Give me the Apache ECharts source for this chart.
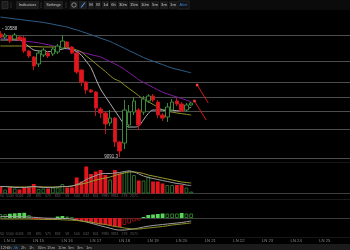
<!DOCTYPE html>
<html><head><meta charset="utf-8">
<script src="https://cdn.jsdelivr.net/npm/echarts@6/dist/echarts.min.js"></script>
<style>html,body{margin:0;padding:0;background:#000;overflow:hidden}#c{width:350px;height:250px}</style>
</head><body><div id="c"></div>
<script>
// ---- data ----
const opens  = [10552,10516,10528,10493,10516,10505,10350,10279,10196,10303,10326,10315,10338,10386,10457,10398,10326,10124,9982,9887,9863,9661,9614,9495,9554,9269,9257,9471,9625,9649,9625,9756,9816,9744,9590,9566,9649,9756,9721,9649,9709];
const closes = [10516,10540,10469,10540,10481,10350,10291,10172,10326,10362,10291,10374,10410,10469,10398,10326,10101,9982,9887,9863,9673,9614,9483,9554,9269,9162,9649,9625,9756,9471,9780,9816,9768,9590,9554,9685,9744,9721,9637,9709,9732];
const lows   = [10505,10493,10445,10481,10469,10326,10267,10124,10160,10279,10267,10291,10315,10374,10386,10315,10077,9934,9839,9851,9578,9554,9364,9459,9210,9091,9186,9435,9590,9412,9590,9732,9744,9554,9519,9507,9625,9697,9625,9625,9697];
const highs  = [10588,10564,10540,10564,10528,10528,10362,10291,10362,10386,10350,10398,10433,10540,10469,10410,10338,10136,9994,9899,9875,9685,9625,9649,9566,9281,9768,9709,9804,9673,9816,9839,9839,9768,9614,9732,9780,9792,9744,9732,9744];

const maBlue   = [10754,10747,10740,10731,10726,10718,10711,10704,10697,10690,10679,10669,10657,10646,10635,10616,10602,10582,10563,10543,10524,10503,10483,10464,10436,10410,10382,10355,10328,10300,10273,10250,10230,10209,10189,10167,10148,10133,10120,10105,10091];
const maPurple = [10505,10497,10490,10483,10476,10469,10462,10455,10448,10437,10425,10412,10400,10387,10374,10362,10349,10336,10322,10307,10294,10280,10253,10225,10197,10168,10133,10092,10052,10009,9978,9949,9918,9888,9861,9842,9821,9804,9785,9766,9748];
const maOlive  = [10410,10410,10410,10410,10410,10409,10406,10404,10401,10399,10398,10398,10398,10398,10392,10381,10362,10339,10291,10248,10200,10154,10108,10057,10015,9991,9946,9903,9863,9819,9776,9749,9716,9682,9650,9636,9624,9614,9606,9598,9590];
const maGray   = [10481,10481,10481,10481,10481,10445,10402,10362,10352,10345,10342,10348,10360,10373,10385,10364,10343,10300,10227,10151,10020,9898,9810,9726,9641,9557,9478,9447,9447,9459,9533,9608,9649,9649,9649,9649,9646,9641,9637,9661,9682];

const levels = [10540,10231,9982,9804,9637,9424,9079];
const arrowA = [[41.25,9946],[43.57,9732]];
const arrowB = [[40.68,9756],[43.14,9530]];
const highLabel = '- 10588';
const lowLabel = '9091.3';

const volumes  = [7,4,6,5,4,6,6,9.5,4.5,5,5,6,6,9.5,6,6,16,12,27,19.5,22,23.5,18.5,14,23.5,20,22,23,18.5,13,13,17,12,12,10,8.5,8.5,8.5,8.5,6,2];
const volMaOlive = [6.8,6.9,6.7,6.6,6.5,6.5,6.6,6.8,6.7,6.6,6.5,6.5,6.6,6.9,7.0,7.5,8.5,9.5,10.5,12,13.5,14.5,15.5,16.5,18,19.5,20.5,21.5,21.5,21,20,18.5,17.5,16.5,15.5,14.5,13.5,12.5,11.5,11,10.5];
const volMaGray  = [7,7,6.5,6,6,6,6.5,7,6.5,6,6,6,6.5,7,7,7.5,9,11,14,16,18,19.5,20,20,20.5,21,22,22.5,21.5,19.5,17.5,16,15,14,13,12,11,10,9.5,8.5,8];

const macdHist = [4,3.8,4.3,4.7,5,5.2,3,-1,-1.2,-1,-1.2,-0.8,1.5,2,1.5,0.5,-2,-3,-4,-4.5,-5.5,-6.5,-7,-7.5,-8.5,-9,-7,-5.5,-3.5,-2.5,1,3,3.5,4,4.5,4.5,4.5,4.5,5,4.5,4.5];
const macdDif  = [1.5,1.5,1.5,1.5,1.3,1.2,1,0.7,0.3,0,-0.2,-0.3,-0.5,-0.5,-0.5,-1.2,-2,-3,-4,-5.2,-6.5,-7.8,-9,-10.2,-11.5,-12,-12,-11.5,-11,-10,-9,-8.2,-7.5,-7,-6.5,-6,-5.5,-5,-4.5,-3.8,-3];
const macdDea  = [-1,-1,-1,-1,-1,-1,-1,-1.2,-1.3,-1.5,-1.5,-1.5,-1.5,-1.8,-2,-2.2,-2.5,-3,-3.5,-4.2,-5,-5.8,-6.5,-7.5,-8.5,-9.2,-10,-10.5,-11,-11,-10.5,-10,-9.5,-9,-8.5,-7.8,-7,-6.5,-6,-5.5,-5];

const dateLabels = ['LN 14','LN 15','LN 16','LN 17','LN 18','LN 19','LN 20','LN 21','LN 22','LN 23','LN 24','LN 25'];
const tinyLabels = ['8950','5100','6068','28','695','575','853','58','540','632','801','9985','9851','278','2571'];

const toolbarTabs = ['Indicators','Settings'];
const timeframes = ['M','W','1d','6h','30m','15m','10m','5m','3m','1m'];
const alertLabel = 'Alert';
const bottomFrames = ['12h','6h','4h','2h','1h','30m','15m','10m','5m','3m','1m'];
const activeBottom = '4h';

// ---- chart ----
const N = 74;
const cats = Array.from({length:N},(_,i)=>String(i));
const FONT = 'Liberation Sans, DejaVu Sans, sans-serif';
const chart = echarts.init(document.getElementById('c'), null, {renderer:'canvas', width:350, height:250});

const candleData = opens.map((o,i)=>[o, closes[i], lows[i], highs[i]]);
const volData = volumes.map((v,i)=>({value:v, itemStyle: closes[i]>=opens[i]
  ? {color:'rgba(0,0,0,0)', borderColor:'#2b6a2b', borderWidth:1}
  : {color:'#e3161e'}}));
const macdData = macdHist.map((v,i)=>{
  const prev = i>0 ? macdHist[i-1] : null;
  let st;
  if (v>=0) st = (prev!==null && v>prev) ? {color:'#57d657'} : {color:'rgba(0,0,0,0)', borderColor:'#2d7a2d', borderWidth:1};
  else st = (prev!==null && v<prev) ? {color:'#e3161e'} : {color:'rgba(0,0,0,0)', borderColor:'#8a1414', borderWidth:1};
  return {value:v, itemStyle:st};
});
const arrowSeries = (pts)=>({type:'line', xAxisIndex:1, yAxisIndex:0, silent:true, z:5,
  data: pts.map((p,i)=> i===0 ? {value:p, symbol:'rect', symbolSize:2.5, itemStyle:{color:'#ff3a3a'}} : {value:p, symbol:'none'}),
  showSymbol:true, lineStyle:{color:'#d01818', width:1}});
const maLine = (d,color,x,y)=>({type:'line', xAxisIndex:x, yAxisIndex:y, data:d, showSymbol:false, smooth:0.35, silent:true,
  lineStyle:{color, width:1}, z:3});

const gridBase = {left:-2, right:-1, outerBoundsMode:'none', containLabel:false};

// graphic (toolbars & separators)
const g = [];
g.push({type:'rect', shape:{x:0,y:0,width:350,height:10}, style:{fill:'#0b0b0b'}, z:100});
g.push({type:'rect', shape:{x:2,y:1.5,width:6,height:7}, style:{fill:'#1d1d1d', stroke:'#3a3a3a', lineWidth:0.6}, z:101});
const dots = [11,41,66];
dots.forEach(x=>g.push({type:'text', style:{text:'⋮', x, y:5, fill:'#8a8a8a', fontSize:6, fontFamily:FONT, align:'center', verticalAlign:'middle'}, z:101}));
const tabBoxes = [[16,23],[44,19]];
toolbarTabs.forEach((t,i)=>{
  const [x,w] = tabBoxes[i];
  g.push({type:'rect', shape:{x,y:1,width:w,height:8}, style:{fill:'#1d1d1d'}, z:101});
  g.push({type:'text', style:{text:t, x:x+w/2, y:5.2, fill:'#c8c8c8', fontSize:4, fontFamily:FONT, align:'center', verticalAlign:'middle'}, z:102});
});
g.push({type:'rect', shape:{x:70,y:1,width:8,height:8}, style:{fill:'#1d1d1d'}, z:101});
g.push({type:'circle', shape:{cx:74,cy:5,r:2.2}, style:{fill:'none', stroke:'#aaaaaa', lineWidth:0.7}, z:102});
g.push({type:'rect', shape:{x:79,y:1,width:8,height:8}, style:{fill:'#1d1d1d'}, z:101});
g.push({type:'line', shape:{x1:81,y1:7.5,x2:85,y2:2.5}, style:{stroke:'#4a90e2', lineWidth:1.2}, z:102});
const tfW = [6,6,7,7,10,10,10,8,8,8];
let tx = 88;
timeframes.forEach((t,i)=>{
  const w = tfW[i];
  g.push({type:'rect', shape:{x:tx,y:1,width:w,height:8}, style:{fill:'#1b1b1b'}, z:101});
  g.push({type:'text', style:{text:t, x:tx+w/2, y:5.2, fill:'#c8c8c8', fontSize:4.2, fontFamily:FONT, align:'center', verticalAlign:'middle'}, z:102});
  tx += w+1;
});
g.push({type:'rect', shape:{x:tx,y:1,width:11,height:8}, style:{fill:'#111', stroke:'#333', lineWidth:0.6}, z:101});
g.push({type:'text', style:{text:alertLabel, x:tx+5.5, y:5.2, fill:'#3b82d6', fontSize:3.8, fontFamily:FONT, align:'center', verticalAlign:'middle'}, z:102});

// separators
[[162.5,'#161616'],[199.5,'#1a1a1a'],[237.5,'#161616']].forEach(([y,c])=>
  g.push({type:'line', shape:{x1:0,y1:y,x2:350,y2:y}, style:{stroke:c, lineWidth:1}, z:1}));

// bottom toolbar
g.push({type:'rect', shape:{x:0,y:244,width:350,height:6}, style:{fill:'#1b1b1b'}, z:100});
const bfX = [0.5,7,13.5,21,29,37.5,47,58,68,77,86];
bottomFrames.forEach((t,i)=>{
  g.push({type:'text', style:{text:t, x:bfX[i], y:247.6, fill: t===activeBottom ? '#3b82d6' : '#a8a8a8', fontSize:4.2, fontFamily:FONT, align:'left', verticalAlign:'middle'}, z:101});
});

const option = {
  backgroundColor:'#000',
  animation:false,
  grid:[
    Object.assign({top:13.16, height:151.5}, gridBase),
    Object.assign({top:163.5, height:30}, gridBase),
    Object.assign({top:200, height:32}, gridBase),
    Object.assign({top:232.5, height:1}, gridBase)
  ],
  xAxis:[
    {type:'category', gridIndex:0, data:cats, show:false},
    {type:'value', gridIndex:0, min:-0.5, max:N-0.5, show:false},
    {type:'category', gridIndex:1, data:cats, axisLine:{show:true, lineStyle:{color:'#3c3c3c', width:1}}, axisTick:{show:false}, splitLine:{show:false},
      axisLabel:{show:true, interval:0, hideOverlap:false, margin:1, fontSize:3.5, fontFamily:FONT, color:'#5c5c5c',
        formatter:(v,i)=> (i%2===0 && i/2 < tinyLabels.length) ? tinyLabels[i/2] : ''}},
    {type:'category', gridIndex:2, data:cats, axisLine:{show:true, lineStyle:{color:'#3c3c3c', width:1}}, axisTick:{show:false}, splitLine:{show:false},
      axisLabel:{show:true, interval:0, hideOverlap:false, margin:0.5, fontSize:3.5, fontFamily:FONT, color:'#5c5c5c',
        formatter:(v,i)=> (i%2===0 && i/2 < tinyLabels.length) ? tinyLabels[i/2] : ''}},
    {type:'category', gridIndex:3, data:cats, axisLine:{show:false}, axisTick:{show:false}, splitLine:{show:false},
      axisLabel:{show:true, interval:0, hideOverlap:false, margin:5, fontSize:4.2, fontFamily:FONT, color:'#8a8a8a',
        formatter:(v,i)=> (i>=2 && (i-2)%6===0 && (i-2)/6 < dateLabels.length) ? dateLabels[(i-2)/6] : ''}}
  ],
  yAxis:[
    {type:'value', gridIndex:0, min:9000, max:10800, show:false, splitLine:{show:false}},
    {type:'value', gridIndex:1, min:0, max:30, show:false, splitLine:{show:false}},
    {type:'value', gridIndex:2, min:-14, max:18, show:false, splitLine:{show:false}},
    {type:'value', gridIndex:3, min:0, max:1, show:false, splitLine:{show:false}}
  ],
  graphic:g,
  series:[
    {type:'candlestick', xAxisIndex:0, yAxisIndex:0, data:candleData, barWidth:4, silent:true, z:4,
      itemStyle:{color:'#000', color0:'#e3161e', borderColor:'#3a8a3a', borderColor0:'#c3141b', borderWidth:1},
      markLine:{silent:true, symbol:['none','none'], label:{show:false}, animation:false, z:1,
        lineStyle:{color:'#4d4d4d', type:'solid', width:1}, data:levels.map(v=>({yAxis:v}))},
      markPoint:{silent:true, symbol:'rect', symbolSize:0.1, itemStyle:{color:'rgba(0,0,0,0)'},
        label:{show:true, color:'#cfcfcf', fontSize:4.5, fontFamily:FONT},
        data:[
          {coord:[0, highs[0]], label:{position:'right', distance:1.5, offset:[0,-2], formatter:highLabel}},
          {coord:[25, lows[25]], label:{position:'left', distance:1.5, formatter:lowLabel}}
        ]}
    },
    maLine(maBlue,'#2f5f87',0,0),
    maLine(maPurple,'#7e1e9c',0,0),
    maLine(maOlive,'#8f8f2a',0,0),
    maLine(maGray,'#b0b0b0',0,0),
    arrowSeries(arrowA),
    arrowSeries(arrowB),
    {type:'bar', xAxisIndex:2, yAxisIndex:1, data:volData, barWidth:3.8, silent:true},
    maLine(volMaOlive,'#9a9a2e',2,1),
    maLine(volMaGray,'#9c9c9c',2,1),
    {type:'bar', xAxisIndex:3, yAxisIndex:2, data:macdData, barWidth:3.8, silent:true},
    maLine(macdDif,'#a0a0a0',3,2),
    maLine(macdDea,'#8f8f2a',3,2)
  ]
};
chart.setOption(option);
</script></body></html>
